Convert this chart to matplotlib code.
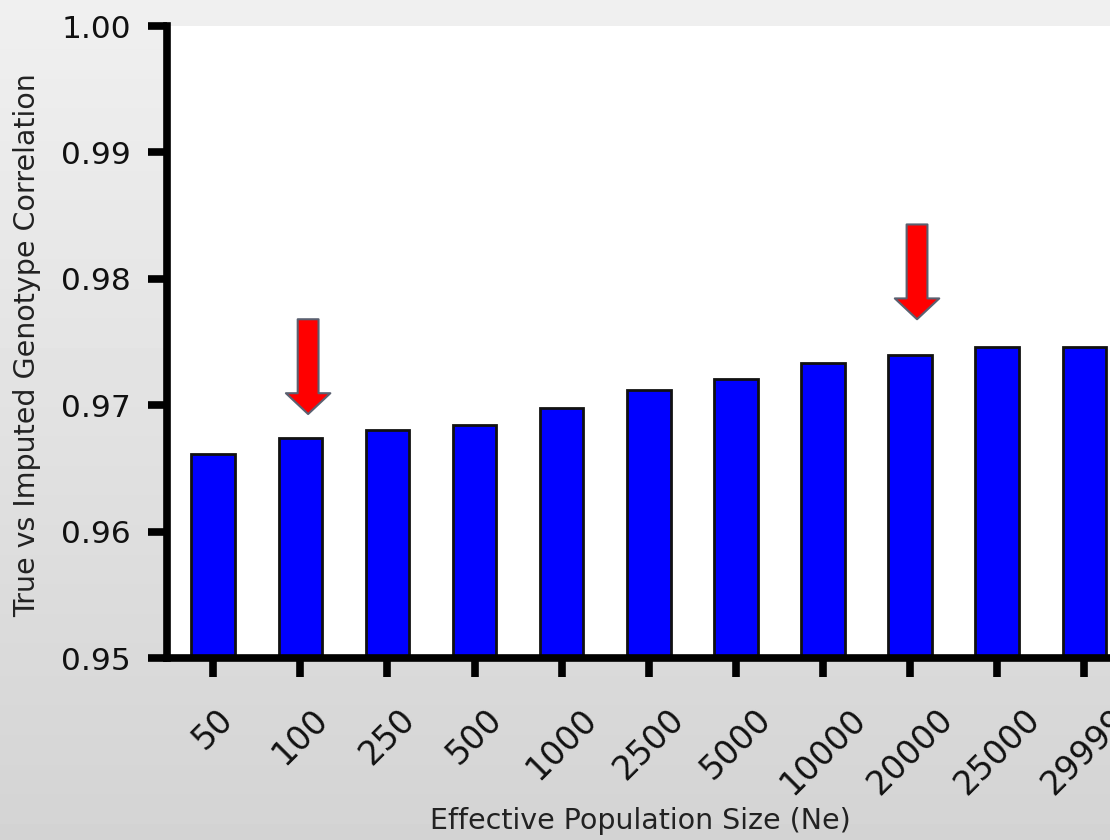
import numpy as np
import matplotlib
matplotlib.use("Agg")
import matplotlib.pyplot as plt

# ---- data ----
categories = ["50", "100", "250", "500", "1000", "2500", "5000",
              "10000", "20000", "25000", "29999"]
correlation = [0.9661, 0.9674, 0.9680, 0.9684, 0.9698, 0.9712, 0.9721,
               0.9733, 0.9740, 0.9746, 0.9746]
# highlighted arrows: (x position in category units, tip value, tail value)
arrow_x = [1.09, 8.08]
arrow_tip = [0.9693, 0.9768]
arrow_tail = [0.9768, 0.9843]

yticks = [0.95, 0.96, 0.97, 0.98, 0.99, 1.00]

fig = plt.figure(figsize=(11.1, 8.4), dpi=100)

# gradient background
bg = fig.add_axes([0, 0, 1, 1], zorder=-10)
grad = np.linspace(0.94, 0.83, 256).reshape(-1, 1)
bg.imshow(grad, aspect="auto", cmap="gray", vmin=0, vmax=1,
          extent=[0, 1, 0, 1])
bg.axis("off")

left = 167 / 1110
bottom = 1 - 658 / 840
top = 1 - 26 / 840
ax = fig.add_axes([left, bottom, 1.02 - left, top - bottom])
ax.set_facecolor("white")

x = np.arange(len(categories))
ax.bar(x, correlation, width=0.5, color="#0000ff", edgecolor="#111111",
       linewidth=2, zorder=2)

ax.set_ylim(0.95, 1.00)
ax.set_xlim(-0.53, 10.55)
ax.set_yticks(yticks)
ax.set_yticklabels([f"{v:.2f}" for v in yticks])
ax.set_xticks(x)
ax.set_xticklabels(categories, rotation=45, ha="center", va="top")

for s in ["top", "right"]:
    ax.spines[s].set_visible(False)
for s in ["left", "bottom"]:
    ax.spines[s].set_linewidth(5.5)
    ax.spines[s].set_color("black")

ax.tick_params(axis="both", direction="out", length=14, width=5.5,
               color="black", labelsize=22.5, labelcolor="#111111")
ax.tick_params(axis="y", pad=12)
ax.tick_params(axis="x", pad=18, labelsize=24)

ax.set_ylabel("True vs Imputed Genotype Correlation", fontsize=20.5,
              color="#222222")
ax.set_xlabel("Effective Population Size (Ne)", fontsize=20.5,
              color="#222222")
ax.yaxis.set_label_coords(-0.13, 0.495)
ax.xaxis.set_label_coords((640 - 167) / (1110 * (1.02 - left)), -0.235)

for ax_x, tip, tail in zip(arrow_x, arrow_tip, arrow_tail):
    ax.annotate("", xy=(ax_x, tip), xytext=(ax_x, tail),
                arrowprops=dict(arrowstyle="simple,head_length=15,head_width=32,tail_width=15",
                                mutation_scale=1, facecolor="#ff0000",
                                edgecolor="#5a6070", linewidth=1.5,
                                shrinkA=0, shrinkB=0),
                zorder=3)

fig.savefig("out.png", dpi=100)
